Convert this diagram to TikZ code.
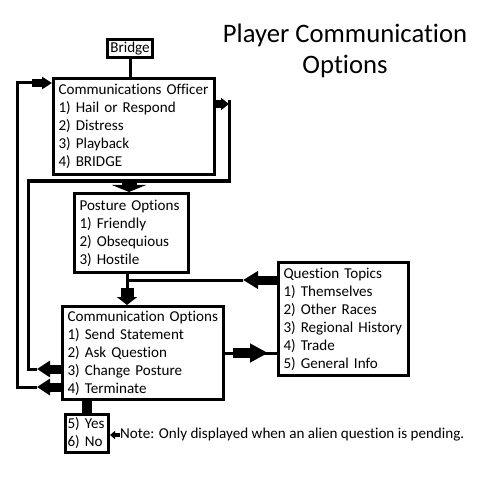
\documentclass[tikz,border=0pt]{standalone}
\usepackage{fontspec}
\setmainfont{Carlito}[Ligatures={NoCommon,NoRequired,NoContextual}]
\usetikzlibrary{arrows.meta}
\begin{document}
\begin{tikzpicture}[x=1bp,y=-1bp,
  txt/.style={font=\fontsize{15.1bp}{18bp}\selectfont},
  box/.style={txt, draw, line width=3bp, rectangle, anchor=north west, align=left, inner xsep=5bp, inner ysep=0pt},
  conn/.style={line width=3bp},
  fat/.style n args={3}{line width=#1, -{Triangle[length=#2,width=#3]}},
  titlefont/.style={font=\fontsize{26.67bp}{31bp}\selectfont, anchor=base, inner sep=0pt}
]
\fill[white] (0,0) rectangle (482,480);
\useasboundingbox (0,0) rectangle (482,480);

% title
\node[titlefont] (title1) at (345,43) {Player Communication};
\node[titlefont] (title2) at (345,74) {Options};

% boxes
\node[box, inner xsep=0pt, align=center, minimum width=45bp, minimum height=18bp, text width=45bp] (bridge) at (106,38) {Bridge};
\node[box, minimum width=161bp, minimum height=96bp, text width=151bp] (officer) at (52,77)
  {Communications Officer\\1) Hail or Respond\\2) Distress\\3) Playback\\4) BRIDGE};
\node[box, minimum width=114bp, minimum height=79bp, text width=104bp] (posture) at (73,192)
  {Posture Options\\1) Friendly\\2) Obsequious\\3) Hostile};
\node[box, minimum width=130bp, minimum height=113bp, text width=120bp] (question) at (277,261)
  {Question Topics\\1) Themselves\\2) Other Races\\3) Regional History\\4) Trade\\5) General Info};
\node[box, minimum width=161bp, minimum height=93bp, text width=151bp] (commopt) at (61,305)
  {Communication Options\\1) Send Statement\\2) Ask Question\\3) Change Posture\\4) Terminate};
\node[box, inner xsep=2bp, minimum width=43bp, minimum height=38bp, text width=39bp] (yesno) at (64,413)
  {5) Yes\\6) No};
\node[txt, anchor=west, inner sep=0pt] (note) at (120,435) {Note: Only displayed when an alien question is pending.};

% coordinates
\coordinate (termY) at (37,387);
\coordinate (leftA) at (17,387);
\coordinate (leftB) at (17,83);
\coordinate (offIn) at (32,83);
\coordinate (cpY) at (37,369);
\coordinate (midA) at (28,369);
\coordinate (midB) at (28,181);
\coordinate (rtB) at (229,181);
\coordinate (rtA) at (229,100);
\coordinate (offOut) at (229,104);
\coordinate (pIn) at (129,179);
\coordinate (pOut) at (127,288);
\coordinate (qJ) at (127,280);
\coordinate (qTip) at (243,280);
\coordinate (cq1) at (233,353);
\coordinate (cq2) at (268,353);

% bridge to officer
\draw[conn] (bridge.south) -- (bridge.south |- officer.north);

% terminate loop back to officer
\draw[fat={9bp}{13bp}{16bp}] (commopt.west |- termY) -- (termY);
\draw[conn] (termY) -- (leftA) -- (leftB) -- (offIn);
\draw[fat={8bp}{10bp}{12bp}] (offIn) -- (officer.west |- offIn);

% change posture loop and officer output into posture
\draw[fat={9bp}{13bp}{16bp}] (commopt.west |- cpY) -- (cpY);
\draw[conn] (cpY) -- (midA) -- (midB) -- (rtB) -- (rtA);
\draw[fat={8bp}{8bp}{12bp}] (officer.east |- offOut) -- (offOut);
\draw[fat={15bp}{7bp}{34bp}] (pIn) -- (pIn |- posture.north);

% posture to communication options
\draw[conn] (pOut |- posture.south) -- (pOut);
\draw[fat={13bp}{8bp}{20bp}] (pOut) -- (pOut |- commopt.north);

% question topics back
\draw[fat={9bp}{15bp}{17bp}] (question.west |- qTip) -- (qTip);
\draw[conn] (qTip) -- (qJ);

% communication options to question topics
\draw[conn] (commopt.east |- cq1) -- (question.west |- cq1);
\draw[fat={10bp}{18bp}{18bp}] (cq1) -- (cq2);

% yes/no stem
\draw[line width=10bp] (yesno.north |- commopt.south) -- (yesno.north);

% note arrow
\draw[fat={4bp}{5bp}{8bp}] (note.west) -- (yesno.east |- note.west);
\end{tikzpicture}
\end{document}
